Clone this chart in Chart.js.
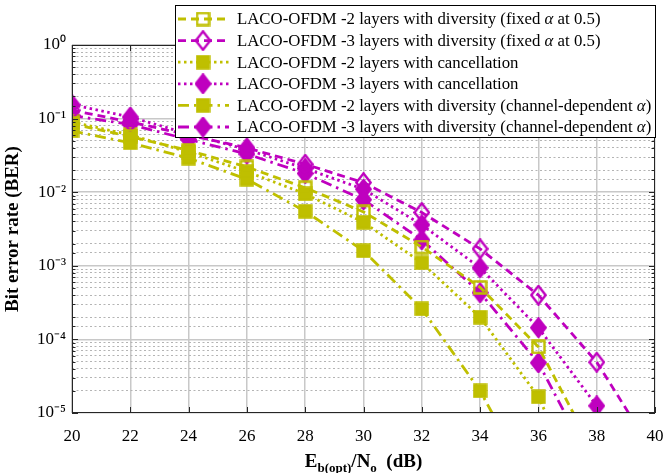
<!DOCTYPE html>
<html>
<head>
<meta charset="utf-8">
<script src="https://cdn.jsdelivr.net/npm/chart.js@4.4.1/dist/chart.umd.min.js"></script>
<style>
  html, body { margin: 0; padding: 0; background: #fff; }
</style>
</head>
<body>
<canvas id="ber" width="668" height="473"></canvas>
<script>
// Eb(opt)/No in dB
const ebno = [20, 22, 24, 26, 28, 30, 32, 34, 36, 38, 40];

// BER curves (null = not plotted)
const div2Fixed = [0.085, 0.057, 0.037, 0.022, 0.0115, 0.0054, 0.0018, 5.1e-4, 7.9e-5, 2.5e-6, null];
const div3Fixed = [0.13, 0.09, 0.06, 0.04, 0.024, 0.0135, 0.0053, 0.0017, 4.0e-4, 4.9e-5, 2.7e-6];
const canc2 = [0.09, 0.06, 0.035, 0.019, 0.0095, 0.0039, 0.0011, 2.0e-4, 1.66e-5, 3e-7, null];
const canc3 = [0.155, 0.105, 0.062, 0.038, 0.021, 0.011, 0.0036, 9.4e-4, 1.44e-4, 1.25e-5, 3e-7];
const div2Chan = [0.068, 0.047, 0.029, 0.015, 0.0055, 0.0016, 2.6e-4, 2.0e-5, 7e-7, null, null];
const div3Chan = [0.11, 0.083, 0.052, 0.033, 0.018, 0.0079, 0.00225, 4.3e-4, 4.8e-5, 1.5e-6, null];

const seriesLabels = [
  ['LACO-OFDM -2 layers with diversity (fixed ', 'α', ' at 0.5)'],
  ['LACO-OFDM -3 layers with diversity (fixed ', 'α', ' at 0.5)'],
  ['LACO-OFDM -2 layers with cancellation'],
  ['LACO-OFDM -3 layers with cancellation'],
  ['LACO-OFDM -2 layers with diversity (channel-dependent ', 'α', ')'],
  ['LACO-OFDM -3 layers with diversity (channel-dependent ', 'α', ')']
];

const yellow = '#bfbf00';
const magenta = '#bf00bf';
const FONT = "'Liberation Serif', 'Times New Roman', serif";

const dashed = [8, 5];
const dotted = [2.5, 3.5];
const dashDot = [11, 5, 2.5, 5];

// matlab-like markers drawn once on small canvases
function makeMarker(shape, color, filled) {
  const c = document.createElement('canvas');
  const w = shape === 'square' ? 15 : 17;
  const h = shape === 'square' ? 15 : 21;
  c.width = w; c.height = h;
  const g = c.getContext('2d');
  g.strokeStyle = color;
  g.fillStyle = color;
  g.lineWidth = 2.4;
  g.beginPath();
  if (shape === 'square') {
    g.rect(1.5, 1.5, w - 3, h - 3);
  } else {
    g.moveTo(w / 2, 1.3);
    g.lineTo(w - 1.3, h / 2);
    g.lineTo(w / 2, h - 1.3);
    g.lineTo(1.3, h / 2);
    g.closePath();
  }
  if (filled) g.fill();
  g.stroke();
  return c;
}

function toPoints(arr) {
  return ebno.map((x, i) => ({ x: x, y: arr[i] })).filter(p => p.y !== null);
}

function series(idx, arr, color, dash, marker) {
  return {
    label: seriesLabels[idx].join(''),
    data: toPoints(arr),
    borderColor: color,
    backgroundColor: color,
    borderWidth: 2.8,
    borderDash: dash,
    pointStyle: marker,
    pointRadius: 8,
    fill: false,
    tension: 0
  };
}

const datasets = [
  series(0, div2Fixed, yellow, dashed, makeMarker('square', yellow, false)),
  series(1, div3Fixed, magenta, dashed, makeMarker('diamond', magenta, false)),
  series(2, canc2, yellow, dotted, makeMarker('square', yellow, true)),
  series(3, canc3, magenta, dotted, makeMarker('diamond', magenta, true)),
  series(4, div2Chan, yellow, dashDot, makeMarker('square', yellow, true)),
  series(5, div3Chan, magenta, dashDot, makeMarker('diamond', magenta, true))
];

const SUP = { '0': '⁰', '1': '¹', '2': '²', '3': '³', '4': '⁴', '5': '⁵', '-': '⁻' };
function isDecade(v) {
  const e = Math.log10(v);
  return Math.abs(e - Math.round(e)) < 1e-6;
}

// box, inward ticks, legend and x label
const decorations = {
  id: 'decorations',
  afterDraw(chart) {
    const ctx = chart.ctx;
    const a = chart.chartArea;
    const xs = chart.scales.x, ys = chart.scales.y;
    ctx.save();
    ctx.strokeStyle = '#262626';
    ctx.lineWidth = 1;
    ctx.setLineDash([]);
    ctx.strokeRect(a.left + 0.5, a.top + 0.5, a.right - a.left - 1, a.bottom - a.top - 1);

    ctx.beginPath();
    ys.ticks.forEach(t => {
      const p = Math.round(ys.getPixelForValue(t.value)) + 0.5;
      const len = isDecade(t.value) ? 6 : 3.5;
      ctx.moveTo(a.left, p); ctx.lineTo(a.left + len, p);
      ctx.moveTo(a.right, p); ctx.lineTo(a.right - len, p);
    });
    xs.ticks.forEach(t => {
      const p = Math.round(xs.getPixelForValue(t.value)) + 0.5;
      ctx.moveTo(p, a.bottom); ctx.lineTo(p, a.bottom - 6);
      ctx.moveTo(p, a.top); ctx.lineTo(p, a.top + 6);
    });
    ctx.stroke();

    // x axis label with subscripts
    const big = 'bold 19px ' + FONT, small = 'bold 13px ' + FONT;
    const parts = [['E', big, 0], ['b(opt)', small, 5], ['/N', big, 0], ['o', small, 5], ['  (dB)', big, 0]];
    let total = 0;
    parts.forEach(p => { ctx.font = p[1]; total += ctx.measureText(p[0]).width; });
    let cx = (a.left + a.right) / 2 - total / 2;
    const base = 467;
    ctx.fillStyle = '#000';
    ctx.textBaseline = 'alphabetic';
    ctx.textAlign = 'left';
    parts.forEach(p => {
      ctx.font = p[1];
      ctx.fillText(p[0], cx, base + p[2]);
      cx += ctx.measureText(p[0]).width;
    });

    // legend
    const bx = 175, by = 5, bw = 480, bh = 132;
    ctx.fillStyle = '#fff';
    ctx.fillRect(bx, by, bw, bh);
    ctx.strokeStyle = '#000';
    ctx.strokeRect(bx + 0.5, by + 0.5, bw, bh);
    chart.data.datasets.forEach((ds, i) => {
      const ry = by + 14 + i * 21.6;
      ctx.strokeStyle = ds.borderColor;
      ctx.lineWidth = ds.borderWidth;
      ctx.setLineDash(ds.borderDash);
      ctx.beginPath();
      ctx.moveTo(178, ry);
      ctx.lineTo(229, ry);
      ctx.stroke();
      ctx.setLineDash([]);
      const m = ds.pointStyle;
      ctx.drawImage(m, 203 - m.width / 2, ry - m.height / 2);
      let tx = 237;
      ctx.fillStyle = '#000';
      ctx.textBaseline = 'middle';
      seriesLabels[i].forEach(txt => {
        ctx.font = (txt === 'α' ? 'italic ' : '') + '16.8px ' + FONT;
        ctx.fillText(txt, tx, ry + 1);
        tx += ctx.measureText(txt).width;
      });
    });
    ctx.restore();
  }
};

new Chart(document.getElementById('ber'), {
  type: 'line',
  data: { datasets: datasets },
  plugins: [decorations],
  options: {
    responsive: false,
    animation: false,
    devicePixelRatio: 1,
    layout: { padding: { top: 45, right: 13, bottom: 0, left: 0 } },
    plugins: { legend: { display: false }, tooltip: { enabled: false } },
    scales: {
      x: {
        type: 'linear',
        min: 20,
        max: 40,
        afterFit: s => { s.height = 60; },
        ticks: {
          stepSize: 2,
          padding: 0,
          color: '#000',
          font: { family: FONT, size: 17 }
        },
        grid: {
          color: '#c8c8c8',
          lineWidth: 1.5,
          drawTicks: true,
          tickLength: 13,
          tickColor: 'rgba(0,0,0,0)'
        },
        border: { display: false }
      },
      y: {
        type: 'logarithmic',
        min: 1e-5,
        max: 1,
        afterFit: s => { s.width = 72; },
        ticks: {
          autoSkip: false,
          padding: 6,
          color: '#000',
          font: { family: FONT, size: 17 },
          callback: v => {
            if (!isDecade(v)) return '';
            return '10' + String(Math.round(Math.log10(v))).split('').map(c => SUP[c]).join('');
          }
        },
        grid: {
          color: c => isDecade(c.tick.value) ? '#c8c8c8' : 'rgba(0,0,0,0)',
          lineWidth: 1.5,
          drawTicks: false
        },
        border: { display: false },
        title: {
          display: true,
          text: 'Bit error rate (BER)',
          color: '#000',
          font: { family: FONT, size: 19, weight: 'bold' },
          padding: { top: 2, bottom: 0 }
        }
      },
      yMinor: {
        type: 'logarithmic',
        position: 'left',
        min: 1e-5,
        max: 1,
        afterFit: s => { s.width = 0; },
        ticks: { display: false, autoSkip: false },
        grid: {
          color: c => isDecade(c.tick.value) ? 'rgba(0,0,0,0)' : '#b4b4b4',
          lineWidth: 1,
          drawTicks: false
        },
        border: { display: false, dash: [2, 2.5] }
      }
    }
  }
});
</script>
</body>
</html>
